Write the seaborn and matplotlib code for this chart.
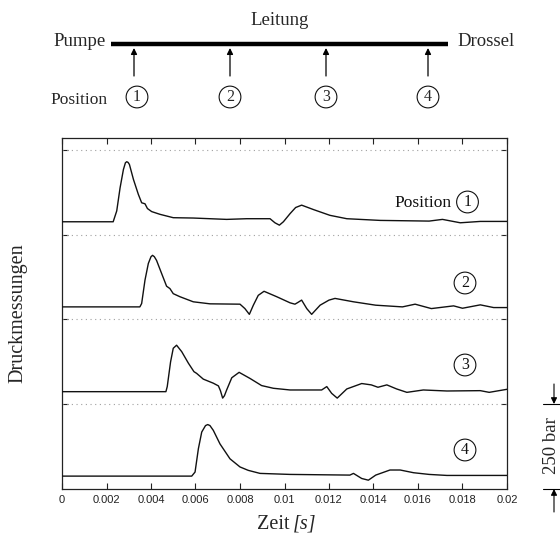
import numpy as np
import pandas as pd
import matplotlib
matplotlib.use("Agg")
import matplotlib.pyplot as plt
import seaborn as sns

sns.set_theme(style="ticks")
plt.rcParams['font.family'] = ['Liberation Serif', 'DejaVu Serif']

# Pressure traces (time in ms, pressure in bar) at the four measuring positions
t1 = [0, 2.30, 2.46, 2.61, 2.76, 2.85, 2.91, 2.97, 3.03, 3.21, 3.43, 3.58, 3.73, 3.84, 4.03, 4.40,
      5.0, 5.9, 7.4, 8.3, 9.35, 9.57, 9.77, 9.95, 10.25, 10.5, 10.77, 11.3, 12.04, 12.8, 14.3,
      16.5, 17.1, 17.9, 18.8, 20.0]
p1 = [38, 38, 70, 138, 192, 212, 215, 213, 207, 163, 119, 94, 91, 77, 68, 60,
      50, 49, 45, 47, 47, 35, 28, 38, 62, 80, 87, 74, 57, 47, 42,
      40, 45, 35, 39, 39]

t2 = [0, 3.50, 3.58, 3.73, 3.88, 4.0, 4.07, 4.15, 4.25, 4.48, 4.70, 4.85, 5.0, 5.3, 5.9, 6.65,
      8.0, 8.22, 8.42, 8.6, 8.82, 9.08, 9.65, 10.25, 10.47, 10.6, 10.77, 11.0, 11.22, 11.6,
      12.0, 12.27, 13.1, 14.1, 15.3, 15.87, 16.6, 17.6, 18.0, 18.8, 19.4, 20.0]
p2 = [37, 37, 47, 116, 165, 185, 189, 185, 174, 135, 98, 91, 76, 67, 52, 46,
      45, 32, 15, 42, 71, 83, 67, 49, 45, 50, 57, 32, 15, 42,
      57, 62, 52, 42, 37, 45, 32, 40, 33, 43, 35, 35]

t3 = [0, 4.67, 4.73, 4.88, 5.0, 5.15, 5.38, 5.68, 5.93, 6.05, 6.35, 6.8, 7.03, 7.12, 7.22, 7.3,
      7.4, 7.63, 7.96, 8.45, 8.97, 9.5, 10.25, 11.67, 11.9, 12.12, 12.37, 12.8, 13.47, 13.9,
      14.2, 14.6, 15.04, 15.5, 16.24, 17.3, 18.8, 19.2, 20.0]
p3 = [37, 37, 52, 125, 165, 174, 155, 121, 96, 91, 74, 62, 54, 40, 18, 25,
      42, 78, 94, 76, 55, 47, 42, 42, 52, 32, 18, 45, 61, 57,
      50, 57, 45, 35, 42, 39, 40, 35, 44]

t4 = [0, 5.83, 5.98, 6.13, 6.28, 6.45, 6.55, 6.65, 6.8, 7.1, 7.55, 8.0, 8.37, 8.9, 10.25,
      12.94, 13.1, 13.47, 13.77, 14.1, 14.74, 15.2, 15.8, 16.5, 17.3, 20.0]
p4 = [38, 38, 50, 119, 168, 187, 190, 187, 173, 133, 89, 65, 55, 46, 43,
      41, 46, 31, 26, 41, 56, 56, 48, 43, 40, 40]

positions = ["1", "2", "3", "4"]
xtick_values = [0, 0.002, 0.004, 0.006, 0.008, 0.01, 0.012, 0.014, 0.016, 0.018, 0.02]
xtick_labels = ["0", "0.002", "0.004", "0.006", "0.008", "0.01", "0.012", "0.014", "0.016", "0.018", "0.02"]
scale_bar = 250  # bar per band

W, H = 560, 533
fig = plt.figure(figsize=(W / 100, H / 100), dpi=100)
fig.patch.set_facecolor("white")

ax = fig.add_axes([62 / W, 44 / H, 445 / W, 351 / H])
ymax = 1035
ax.set_xlim(0, 0.02)
ax.set_ylim(0, ymax)

traces = [(t1, p1), (t2, p2), (t3, p3), (t4, p4)]
frames = []
for k, (t, p) in enumerate(traces):
    offset = (3 - k) * scale_bar
    frames.append(pd.DataFrame({"t": np.array(t) * 1e-3,
                                "p": np.array(p, float) + offset,
                                "pos": positions[k]}))
df = pd.concat(frames, ignore_index=True)

for y in [250, 500, 750, 1000]:
    ax.axhline(y, color="#a0a0a0", ls=(0, (1, 3.2)), lw=0.8, zorder=1)

sns.lineplot(data=df, x="t", y="p", units="pos", estimator=None, sort=False,
             color="#111111", lw=1.0, ax=ax, legend=False, zorder=3)

ax.set_xticks(xtick_values)
ax.set_xticklabels(xtick_labels, fontfamily="Liberation Sans", fontsize=8, color="#222222")
ax.set_yticks([250, 500, 750, 1000])
ax.set_yticklabels([])
ax.tick_params(direction="in", top=True, right=True, length=4, width=0.8,
               color="#222222", pad=4)
ax.set_xlabel("")
ax.set_ylabel("")
for s in ax.spines.values():
    s.set_color("#222222")
    s.set_linewidth(0.9)

circ = dict(boxstyle="circle,pad=0.18", fc="none", ec="#111111", lw=0.8)

def px2data(px, py):
    return (px - 62) / 445 * 0.02, (489 - py) / 351 * ymax

x, y = px2data(452, 207)
ax.text(x, y, "Position", ha="right", va="baseline", fontsize=12.5, color="#111111")
for lab, (px, py) in zip(positions, [(467.5, 202), (465, 283), (465, 365), (465, 450)]):
    x, y = px2data(px, py)
    ax.text(x, y, lab, ha="center", va="center", fontsize=11.5, color="#111111", bbox=circ)

# Overlay in pixel coordinates for the pipe sketch and the outer labels
ov = fig.add_axes([0, 0, 1, 1], zorder=5)
ov.set_xlim(0, W)
ov.set_ylim(H, 0)
ov.axis("off")
ov.patch.set_alpha(0)

ov.text(280, 25, "Leitung", ha="center", va="baseline", fontsize=13.5)
ov.text(106, 46.5, "Pumpe", ha="right", va="baseline", fontsize=13.5)
ov.text(457, 46.5, "Drossel", ha="left", va="baseline", fontsize=13.5)
ov.plot([111, 448], [43.5, 43.5], color="black", lw=3.2, solid_capstyle="butt")
for lab, px in zip(positions, [134, 230, 326, 428]):
    ov.annotate("", xy=(px, 48), xytext=(px, 76),
                arrowprops=dict(arrowstyle="-|>", lw=0.9, color="black",
                                mutation_scale=9, shrinkA=0, shrinkB=0))
    ov.text(px + 3 if lab == "1" else px, 97, lab, ha="center", va="center",
            fontsize=11.5, bbox=circ)
ov.text(50, 103.5, "Position", ha="left", va="baseline", fontsize=12.5)

ov.text(18, 313, "Druckmessungen", rotation=90, ha="center", va="center", fontsize=14.5)
ov.text(289, 529, "Zeit", ha="right", va="baseline", fontsize=14.5)
ov.text(293, 529, "[s]", ha="left", va="baseline", fontsize=14.5, style="italic")

# 250 bar scale
ov.plot([543, 560], [404, 404], color="black", lw=0.8)
ov.plot([543, 560], [489, 489], color="black", lw=0.8)
ov.annotate("", xy=(554, 404), xytext=(554, 384),
            arrowprops=dict(arrowstyle="-|>", lw=0.8, color="black",
                            mutation_scale=9, shrinkA=0, shrinkB=0))
ov.annotate("", xy=(554, 489), xytext=(554, 512),
            arrowprops=dict(arrowstyle="-|>", lw=0.8, color="black",
                            mutation_scale=9, shrinkA=0, shrinkB=0))
ov.text(551, 446, f"{scale_bar} bar", rotation=90, ha="center", va="center", fontsize=13.5)

fig.savefig("out.png", dpi=100, facecolor="white")
